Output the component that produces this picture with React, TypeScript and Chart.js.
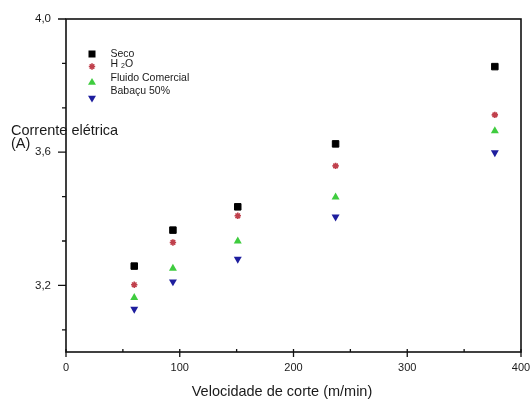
import React, { useEffect, useRef } from 'react';
import { Chart, registerables } from 'chart.js';

Chart.register(...registerables);

// ---- data ----
const speeds = [60, 94, 151, 237, 377];
const seco = [3.258, 3.366, 3.436, 3.625, 3.857];
const h2o = [3.202, 3.329, 3.409, 3.559, 3.712];
const fluido = [3.163, 3.251, 3.333, 3.465, 3.664];
const babacu = [3.129, 3.211, 3.279, 3.406, 3.599];
const seriesNames = ['Seco', 'H 2O', 'Fluido Comercial', 'Babaçu 50%'];
const xMajorTicks = [0, 100, 200, 300, 400];
const xMinorTicks = [50, 150, 250, 350];
const yMajorTicks = [3.2, 3.6, 4.0];
const yMinorTicks = [3.0667, 3.3333, 3.4667, 3.7333, 3.8667];
const xTitle = 'Velocidade de corte (m/min)';
const yTitleLines = ['Corrente elétrica', '(A)'];

const FONT = '"Liberation Sans", Arial, sans-serif';
const TEXT = '#1a1a1a';
const colors = ['#000000', '#c0404c', '#3fcc3f', '#1e1e9e'];

function drawMarker(ctx: CanvasRenderingContext2D, kind: number, x: number, y: number) {
  ctx.save();
  ctx.fillStyle = colors[kind];
  ctx.strokeStyle = colors[kind];
  if (kind === 0) {
    ctx.fillRect(x - 3.5, y - 3.5, 7, 7);
  } else if (kind === 1) {
    ctx.lineWidth = 1.6;
    const r = 3.2;
    ctx.beginPath();
    ctx.moveTo(x - r, y); ctx.lineTo(x + r, y);
    ctx.moveTo(x, y - r); ctx.lineTo(x, y + r);
    const d = r * Math.SQRT1_2;
    ctx.moveTo(x - d, y - d); ctx.lineTo(x + d, y + d);
    ctx.moveTo(x - d, y + d); ctx.lineTo(x + d, y - d);
    ctx.stroke();
  } else {
    const r = 4.6;
    const dir = kind === 2 ? 1 : -1;
    ctx.beginPath();
    ctx.moveTo(x, y - dir * r);
    ctx.lineTo(x + r * 0.866, y + dir * r * 0.5);
    ctx.lineTo(x - r * 0.866, y + dir * r * 0.5);
    ctx.closePath();
    ctx.fill();
  }
  ctx.restore();
}

const decorPlugin = {
  id: 'decor',
  afterDraw(chart: any) {
    const { ctx, chartArea } = chart;
    const xs = chart.scales.x;
    const ys = chart.scales.y;
    const { left, right, top, bottom } = chartArea;
    ctx.save();
    // frame
    ctx.strokeStyle = '#111';
    ctx.lineWidth = 1.6;
    ctx.strokeRect(left, top, right - left, bottom - top);
    // ticks
    ctx.lineWidth = 1.3;
    ctx.beginPath();
    xMajorTicks.forEach((v) => {
      const px = xs.getPixelForValue(v);
      ctx.moveTo(px, bottom - 3);
      ctx.lineTo(px, bottom + 5);
    });
    xMinorTicks.forEach((v) => {
      const px = xs.getPixelForValue(v);
      ctx.moveTo(px, bottom);
      ctx.lineTo(px, bottom - 3);
    });
    yMajorTicks.forEach((v) => {
      const py = ys.getPixelForValue(v);
      ctx.moveTo(left, py);
      ctx.lineTo(left - 8, py);
    });
    yMinorTicks.forEach((v) => {
      const py = ys.getPixelForValue(v);
      ctx.moveTo(left, py);
      ctx.lineTo(left - 4, py);
    });
    ctx.stroke();

    // x title
    ctx.fillStyle = TEXT;
    ctx.font = `14.5px ${FONT}`;
    ctx.textBaseline = 'middle';
    ctx.textAlign = 'center';
    ctx.fillText(xTitle, 282, 392);

    // y title (horizontal)
    ctx.textAlign = 'left';
    ctx.fillText(yTitleLines[0], 11, 130.5);
    ctx.fillText(yTitleLines[1], 11, 143.5);

    // legend
    const markerY = [54, 66.5, 82.5, 98];
    const labelY = [54, 64.5, 78, 91.5];
    const mx = 92;
    const tx = 110.5;
    seriesNames.forEach((name, i) => {
      drawMarker(ctx, i, mx, markerY[i]);
      ctx.fillStyle = TEXT;
      ctx.font = `10.5px ${FONT}`;
      ctx.textBaseline = 'middle';
      ctx.textAlign = 'left';
      if (name === 'H 2O') {
        ctx.fillText('H ', tx, labelY[i]);
        let w = ctx.measureText('H ').width;
        ctx.font = `7px ${FONT}`;
        ctx.fillText('2', tx + w, labelY[i] + 2);
        w += ctx.measureText('2').width;
        ctx.font = `10.5px ${FONT}`;
        ctx.fillText('O', tx + w, labelY[i]);
      } else {
        ctx.fillText(name, tx, labelY[i]);
      }
    });
    ctx.restore();
  },
};

export default function App() {
  const ref = useRef<HTMLCanvasElement | null>(null);
  useEffect(() => {
    if (!ref.current) return;
    const mk = (vals: number[]) => speeds.map((x, i) => ({ x, y: vals[i] }));
    const chart = new Chart(ref.current, {
      type: 'scatter',
      data: {
        datasets: [
          { label: seriesNames[0], data: mk(seco), pointStyle: 'rect', pointRadius: 4.6, borderWidth: 1, backgroundColor: colors[0], borderColor: colors[0] },
          { label: seriesNames[1], data: mk(h2o), pointStyle: 'star', pointRadius: 3.2, borderWidth: 1.6, backgroundColor: colors[1], borderColor: colors[1] },
          { label: seriesNames[2], data: mk(fluido), pointStyle: 'triangle', pointRadius: 4.6, borderWidth: 0, backgroundColor: colors[2], borderColor: colors[2] },
          { label: seriesNames[3], data: mk(babacu), pointStyle: 'triangle', rotation: 180, pointRadius: 4.6, borderWidth: 0, backgroundColor: colors[3], borderColor: colors[3] },
        ],
      },
      options: {
        animation: false,
        responsive: false,
        layout: { padding: { top: 19, right: 10, left: 0, bottom: 0 } },
        plugins: { legend: { display: false }, tooltip: { enabled: false } },
        scales: {
          x: {
            type: 'linear',
            min: 0,
            max: 400,
            grid: { display: false, drawTicks: false },
            border: { display: false },
            afterBuildTicks: (s: any) => { s.ticks = xMajorTicks.map((v) => ({ value: v })); },
            ticks: { padding: 9, color: TEXT, font: { family: FONT, size: 11 }, maxRotation: 0 },
            title: { display: false },
            afterFit: (s: any) => { s.height = 49; s.paddingLeft = 0; s.paddingRight = 0; },
          },
          y: {
            type: 'linear',
            min: 3.0,
            max: 4.0,
            grid: { display: false, drawTicks: false },
            border: { display: false },
            afterBuildTicks: (s: any) => { s.ticks = yMajorTicks.map((v) => ({ value: v })); },
            ticks: {
              padding: 15,
              color: TEXT,
              font: { family: FONT, size: 11.5 },
              callback: (v: any) => Number(v).toFixed(1).replace('.', ','),
            },
            afterFit: (s: any) => { s.width = 66; s.paddingTop = 0; s.paddingBottom = 0; },
          },
        },
      },
      plugins: [decorPlugin],
    });
    return () => chart.destroy();
  }, []);
  return (
    <div style={{ position: 'fixed', left: 0, top: 0, width: 531, height: 401, background: '#fff' }}>
      <canvas ref={ref} width={531} height={401} style={{ display: 'block' }} />
    </div>
  );
}
